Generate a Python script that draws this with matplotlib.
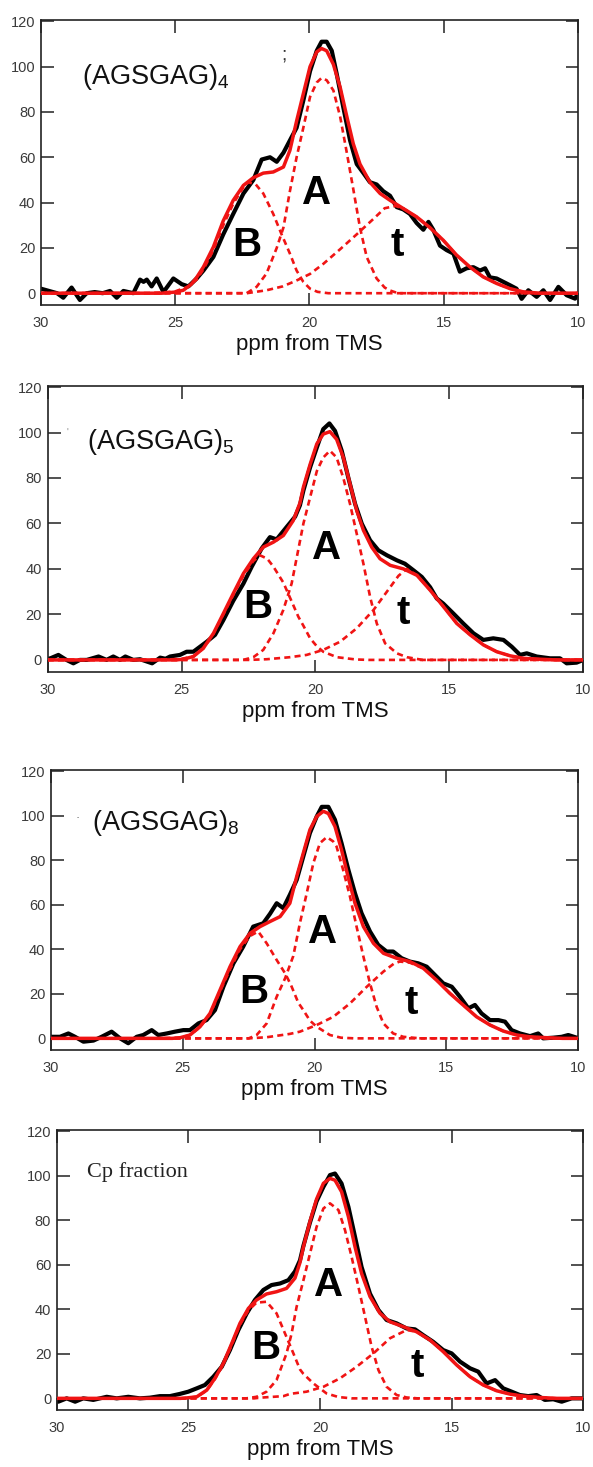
import matplotlib
matplotlib.use("Agg")
import matplotlib.pyplot as plt

plt.rcParams['font.family'] = ['Liberation Sans', 'DejaVu Sans']
plt.rcParams['mathtext.fontset'] = 'custom'
plt.rcParams['mathtext.rm'] = 'Liberation Sans'

# ---------------- Panel 1 : (AGSGAG)4 ----------------
p1_exp_ppm = [30.0, 29.7, 29.4, 29.17, 28.86, 28.55, 28.3, 28.0, 27.7, 27.43, 27.18, 26.93, 26.56,
              26.31, 26.18, 26.06, 25.88, 25.69, 25.44, 25.07, 24.76, 24.51, 24.2, 23.95, 23.58,
              23.21, 22.84, 22.46, 22.09, 21.78, 21.47, 21.22, 20.97, 20.66, 20.48, 20.23, 19.98,
              19.73, 19.55, 19.36, 19.17, 18.99, 18.74, 18.49, 18.24, 17.99, 17.75, 17.5, 17.25,
              17.0, 16.75, 16.51, 16.26, 16.01, 15.76, 15.57, 15.39, 15.14, 14.89, 14.64, 14.4,
              14.15, 13.9, 13.65, 13.46, 13.28, 13.03, 12.78, 12.53, 12.29, 12.1, 11.85, 11.54,
              11.29, 11.04, 10.73, 10.42, 10.11, 10.0]
p1_exp_int = [2, 1, 0, -2, 2.5, -3, 0, 0.5, 0, 1, -2, 1, 0,
              6, 5, 6, 3, 6.5, 0.5, 6.5, 4, 3, 6.5, 10, 16,
              26, 35, 44, 50, 59, 60, 58, 62, 69, 73, 85, 98,
              107, 111, 111, 107, 97, 82, 67.5, 57, 53, 49, 48, 45,
              43, 38, 37, 35, 31, 28, 31.5, 28, 21, 19, 17.5, 9.5,
              11, 11.5, 10, 11, 7, 6.5, 5, 3.5, 2, -2.5, 1.3, -1.6,
              1.3, -3, 2.8, -0.9, -2.4, 0]
p1_fit_ppm = [30.0, 25.5, 25.0, 24.7, 24.4, 24.2, 23.95, 23.58, 23.21, 22.84, 22.46, 22.09, 21.72,
              21.35, 20.97, 20.73, 20.48, 20.23, 19.98, 19.73, 19.55, 19.36, 19.11, 18.86, 18.61,
              18.37, 18.12, 17.75, 17.37, 17.0, 16.51, 16.01, 15.52, 15.02, 14.52, 14.03, 13.53,
              13.03, 12.53, 12.04, 11.42, 10.0]
p1_fit_int = [0, 0, 0.5, 1.3, 4, 7, 11.6, 20.4, 32, 41, 47.6, 51, 53,
              53.5, 55.7, 63, 76, 88, 100, 106.5, 108, 107, 101, 91, 78,
              66, 57, 49, 44, 41, 37.4, 33.7, 29, 23.4, 16.8, 11.6, 7.2,
              4.3, 2, 0.6, 0, 0]
p1_B_ppm = [30.0, 26.0, 25.5, 25.0, 24.5, 24.2, 23.95, 23.58, 23.21, 22.84, 22.5, 22.28, 22.0,
            21.72, 21.35, 21.04, 20.73, 20.48, 20.23, 19.98, 19.7, 19.3, 10.0]
p1_B_int = [0, 0, 0.3, 0.8, 3, 6, 10.5, 19, 30, 39.5, 46, 49, 48,
            44, 35, 26, 17.5, 10, 5, 2, 0.6, 0, 0]
p1_A_ppm = [30.0, 22.34, 21.97, 21.6, 21.22, 20.97, 20.73, 20.48, 20.23, 19.98, 19.73, 19.55, 19.36,
            19.11, 18.86, 18.61, 18.37, 18.12, 17.87, 17.5, 17.2, 17.0, 16.7, 10.0]
p1_A_int = [0, 0, 2.8, 8.7, 20, 29, 45, 60, 73, 86.6, 93, 95, 94,
            89.5, 78, 62, 46, 29, 16, 6.5, 2.5, 1.2, 0, 0]
p1_t_ppm = [30.0, 22.34, 21.6, 21.0, 20.5, 19.98, 19.48, 18.85, 18.24, 17.6, 17.2, 16.8, 16.51,
            16.01, 15.52, 15.02, 14.52, 14.03, 13.53, 13.03, 12.53, 12.04, 11.4, 10.0]
p1_t_int = [0, 0, 1.3, 3, 5.5, 8.5, 13, 19.5, 26, 33, 37.5, 38.5, 37.4,
            33.7, 29, 23.4, 16.8, 11.6, 7.2, 4.3, 2, 0.6, 0, 0]

# ---------------- Panel 2 : (AGSGAG)5 ----------------
p2_exp_ppm = [30.0, 29.9, 29.6, 29.3, 29.04, 28.8, 28.54, 28.1, 27.8, 27.55, 27.3, 27.1, 26.8,
              26.55, 26.1, 25.8, 25.6, 25.43, 25.06, 24.81, 24.56, 24.31, 24.06, 23.75, 23.44,
              23.07, 22.69, 22.38, 22.01, 21.7, 21.45, 21.08, 20.76, 20.58, 20.45, 20.2, 19.95,
              19.71, 19.48, 19.27, 19.02, 18.77, 18.52, 18.27, 17.96, 17.65, 17.33, 16.96, 16.66,
              16.34, 16.03, 15.72, 15.47, 15.23, 14.85, 14.48, 14.1, 13.73, 13.36, 12.98, 12.67,
              12.36, 12.11, 11.74, 11.24, 10.87, 10.62, 10.25, 10.0]
p2_exp_int = [0.5, 0.7, 2.2, 0, -1.5, 0, 0, 1.5, 0, 1.5, 0, 1.5, 0,
              0.3, -1.5, 1, 0.5, 1.5, 2.2, 3.6, 3.6, 5.8, 8, 11, 17.5,
              26, 33.6, 41, 49, 54, 53, 58.4, 63, 68, 74.5, 84.7, 93.4,
              101.5, 104, 100.7, 92, 80, 68.6, 59.9, 52.6, 48.2, 46, 43.8, 42.3,
              39.4, 36.5, 32, 27, 24.8, 20.4, 16, 11.7, 8.8, 9.5, 8.8, 5.8,
              2.2, 2.9, 1.5, 0.7, 0.7, -1.5, -1.2, 0]
p2_fit_ppm = [30.0, 25.2, 24.93, 24.56, 24.19, 23.81, 23.44, 23.07, 22.69, 22.32, 21.95, 21.57, 21.2,
              20.83, 20.58, 20.45, 20.2, 19.95, 19.71, 19.46, 19.21, 18.96, 18.71, 18.46, 18.21,
              17.9, 17.59, 17.21, 16.71, 16.21, 15.72, 15.22, 14.72, 14.22, 13.73, 13.23, 12.73,
              12.23, 11.61, 11.0, 10.0]
p2_fit_int = [0, 0, 0.3, 1.5, 5.1, 11.7, 20.4, 29.2, 38, 44.5, 49.6, 51.8, 54.7,
              61.3, 69, 76, 86, 95, 99.3, 100.4, 97, 89, 77.4, 65.7, 57,
              49.6, 44.5, 41.6, 40, 37.2, 30.7, 23.4, 16, 11, 6.6, 3.6, 1.8,
              0.7, 0.3, 0, 0]
p2_B_ppm = [30.0, 26.0, 25.5, 25.0, 24.56, 24.19, 23.81, 23.44, 23.07, 22.69, 22.32, 22.07, 21.8,
            21.57, 21.2, 20.9, 20.64, 20.45, 20.2, 19.95, 19.71, 19.2, 18.5, 18.0, 10.0]
p2_B_int = [0, 0, 0.2, 0.5, 1.5, 5, 11.5, 20, 28.5, 37, 43.5, 46, 44.5,
            41, 34, 26, 19, 15, 9.5, 6, 3.6, 1.2, 0.2, 0, 0]
p2_A_ppm = [30.0, 22.7, 22.32, 21.95, 21.57, 21.2, 20.89, 20.7, 20.45, 20.2, 19.95, 19.71, 19.46,
            19.21, 18.96, 18.71, 18.46, 18.21, 17.96, 17.71, 17.4, 16.96, 16.59, 16.0, 10.0]
p2_A_int = [0, 0, 1.2, 4.4, 11.7, 22, 33.6, 45, 60, 71.5, 83, 89, 92,
            89, 80, 68.6, 55.5, 42.3, 27.7, 16, 7.3, 2.9, 1.2, 0, 0]
p2_t_ppm = [30.0, 22.5, 21.82, 20.95, 20.33, 19.71, 19.08, 18.46, 17.83, 17.21, 16.9, 16.59, 16.21,
            15.72, 15.22, 14.72, 14.22, 13.73, 13.23, 12.73, 12.23, 11.61, 11.0, 10.0]
p2_t_int = [0, 0, 0.3, 1.2, 2.2, 4.4, 8, 13.9, 22, 32, 37, 40, 37.2,
            30.7, 23.4, 16, 11, 6.6, 3.6, 1.8, 0.7, 0.3, 0, 0]

# ---------------- Panel 3 : (AGSGAG)8 ----------------
p3_exp_ppm = [30.0, 29.66, 29.34, 29.09, 28.77, 28.39, 28.08, 27.7, 27.38, 27.07, 26.75, 26.5, 26.18,
              25.93, 25.61, 25.3, 24.98, 24.73, 24.41, 24.1, 23.78, 23.46, 23.08, 22.71, 22.33,
              21.95, 21.69, 21.44, 21.19, 20.94, 20.68, 20.43, 20.18, 19.92, 19.73, 19.48, 19.23,
              18.98, 18.72, 18.47, 18.22, 17.9, 17.59, 17.27, 17.02, 16.7, 16.39, 16.07, 15.75,
              15.44, 15.12, 14.8, 14.49, 14.17, 13.92, 13.67, 13.35, 13.03, 12.78, 12.53, 12.21,
              11.83, 11.52, 11.33, 10.95, 10.63, 10.38, 10.06, 10.0]
p3_exp_int = [0.7, 0.7, 2.2, 0.7, -1.5, -1, 0.7, 3, 0, -2.2, 0.7, 1.5, 3.7,
              1.5, 2.2, 3, 3.7, 3.7, 6.7, 8.2, 12.7, 23.2, 33.7, 41.2, 50.2,
              51.7, 56, 60.7, 58.5, 64.5, 71.2, 81.7, 92.2, 99.7, 104, 104, 98.2,
              87.7, 75.7, 65.2, 56.2, 48, 42, 39, 39, 36, 34.5, 33.7, 32.2,
              28.5, 24.7, 23.2, 18.7, 13.5, 15, 11.2, 8.2, 8.2, 7.5, 3.7, 2.2,
              1, 2.2, 0, 0.3, 0.7, 1.5, 0.3, 0.3]
p3_fit_ppm = [30.0, 25.4, 25.1, 24.73, 24.35, 23.97, 23.59, 23.21, 22.83, 22.45, 22.07, 21.69, 21.31,
              20.94, 20.68, 20.43, 20.18, 19.92, 19.67, 19.48, 19.23, 18.98, 18.72, 18.47, 18.15,
              17.77, 17.39, 16.89, 16.39, 15.88, 15.38, 14.87, 14.37, 13.86, 13.35, 12.85, 12.34,
              11.83, 11.2, 10.6, 10.0]
p3_fit_int = [0, 0, 0.3, 1.5, 5.2, 11.2, 21.7, 32.2, 41.2, 47.2, 50.2, 52.5, 54.7,
              60.7, 72.7, 83.2, 93.7, 99.7, 102, 101, 95.2, 84.7, 72, 60.7, 50.2,
              42.7, 38.2, 36, 34.5, 31.5, 26.2, 20.2, 15, 9.7, 6, 3.3, 1.5,
              0.7, 0.3, 0, 0]
p3_B_ppm = [30.0, 26.0, 25.5, 25.1, 24.73, 24.35, 23.97, 23.59, 23.21, 22.83, 22.45, 22.14, 21.82,
            21.44, 21.12, 20.9, 20.62, 20.43, 20.18, 19.92, 19.42, 19.0, 18.5, 10.0]
p3_B_int = [0, 0, 0.2, 0.3, 1.5, 5, 10.8, 21, 31, 40, 46, 48, 42.7,
            35.2, 29.2, 24, 16, 12.7, 8, 5.2, 1.5, 0.3, 0, 0]
p3_A_ppm = [30.0, 22.5, 22.2, 21.82, 21.44, 21.12, 20.81, 20.56, 20.3, 20.05, 19.8, 19.54, 19.3,
            19.17, 18.92, 18.66, 18.41, 18.15, 17.9, 17.65, 17.39, 17.02, 16.64, 16.0, 10.0]
p3_A_int = [0, 0, 1.5, 6.7, 18.7, 27, 37, 51.7, 65.2, 78.7, 87.7, 90.4, 88.5,
            86.2, 75.7, 63.7, 50.2, 36.7, 24.7, 14.2, 6.7, 2.2, 0.7, 0, 0]
p3_t_ppm = [30.0, 22.5, 21.82, 20.94, 20.56, 19.92, 19.29, 18.66, 18.02, 17.39, 17.0, 16.77, 16.39,
            15.88, 15.38, 14.87, 14.37, 13.86, 13.35, 12.85, 12.34, 11.83, 11.2, 10.6, 10.0]
p3_t_int = [0, 0, 0.5, 2, 3, 6, 9.7, 15.7, 23.2, 30, 33.5, 34.5, 34,
            31.5, 26.2, 20.2, 15, 9.7, 6, 3.3, 1.5, 0.7, 0.3, 0, 0]

# ---------------- Panel 4 : Cp fraction ----------------
p4_exp_ppm = [30.0, 29.94, 29.62, 29.3, 28.99, 28.61, 28.1, 27.72, 27.28, 26.84, 26.46, 26.08, 25.7,
              25.32, 25.0, 24.68, 24.37, 24.05, 23.73, 23.42, 23.1, 22.78, 22.47, 22.15, 21.84,
              21.52, 21.2, 20.95, 20.76, 20.63, 20.38, 20.13, 19.87, 19.62, 19.43, 19.18, 18.92,
              18.67, 18.42, 18.1, 17.78, 17.47, 17.09, 16.71, 16.39, 16.08, 15.7, 15.32, 15.0,
              14.68, 14.3, 13.99, 13.67, 13.35, 13.04, 12.72, 12.41, 12.09, 11.77, 11.46, 11.14,
              10.82, 10.44, 10.06, 10.0]
p4_exp_int = [-1, -1.5, 0, -1.5, 0, -0.7, 0.7, 0, 0.7, 0, 0.3, 1, 1,
              2, 3, 4.5, 6, 9.7, 14.2, 21.7, 30.7, 38.2, 44.2, 48.7, 50.9,
              51.6, 53.1, 57, 62, 68.5, 79, 88.5, 95, 100.3, 101, 96.5, 86,
              72.6, 59, 47, 39.7, 35.2, 33.7, 31.4, 31, 28.4, 25.4, 21.7, 20.2,
              16.5, 13.5, 12, 6.7, 8.2, 4.5, 3, 1.5, 1, 1.5, -0.7, -0.4,
              -1.5, 0, 0, 0]
p4_fit_ppm = [30.0, 25.3, 25.06, 24.68, 24.3, 23.99, 23.67, 23.35, 23.04, 22.72, 22.41, 22.03, 21.65,
              21.27, 20.95, 20.76, 20.63, 20.38, 20.13, 19.87, 19.62, 19.43, 19.18, 18.92, 18.67,
              18.42, 18.1, 17.72, 17.34, 16.84, 16.33, 15.82, 15.32, 14.81, 14.3, 13.8, 13.29,
              12.78, 12.28, 11.65, 11.0, 10.0]
p4_fit_int = [0, 0, 0.2, 0.7, 3.7, 9, 15.7, 24.7, 33.7, 40.4, 44.2, 46.9, 47.9,
              49.4, 54, 61, 68, 79.5, 89.5, 96.6, 98.8, 98, 92.8, 81.6, 68.1,
              56.1, 45.7, 38.2, 34.4, 32.2, 29.9, 26.2, 21, 15, 9.7, 6, 3.4,
              1.9, 1, 0.4, 0, 0]
p4_B_ppm = [30.0, 25.3, 25.06, 24.68, 24.3, 23.99, 23.67, 23.35, 23.04, 22.72, 22.41, 22.03, 21.65,
            21.33, 21.01, 20.76, 20.63, 20.25, 19.75, 19.3, 18.8, 10.0]
p4_B_int = [0, 0, 0.2, 0.7, 3.5, 8.7, 15.3, 24, 33, 39.5, 43, 43.4, 38.2,
            29.2, 20.2, 13, 11, 6.7, 2.2, 0.6, 0, 0]
p4_A_ppm = [30.0, 22.8, 22.41, 22.03, 21.65, 21.27, 21.08, 20.89, 20.63, 20.38, 20.13, 19.87, 19.62,
            19.3, 19.05, 18.8, 18.54, 18.29, 18.04, 17.78, 17.47, 17.09, 16.71, 16.3, 10.0]
p4_A_int = [0, 0, 0.7, 3, 8.2, 20.2, 29, 41, 53, 65, 77, 85.3, 87.6,
            84.6, 75.6, 63.6, 50.1, 36.7, 23.2, 12.7, 5.2, 1.5, 0.4, 0, 0]
p4_t_ppm = [30.0, 22.5, 22.28, 21.39, 21.14, 20.51, 19.87, 19.24, 18.61, 17.97, 17.34, 16.71, 16.33,
            15.82, 15.32, 14.81, 14.3, 13.8, 13.29, 12.78, 12.28, 11.65, 11.0, 10.0]
p4_t_int = [0, 0, 0.3, 1, 2, 3, 5.2, 9, 14.2, 20.2, 27, 30.7, 29.9,
            26.2, 21, 15, 9.7, 6, 3.4, 1.9, 1, 0.4, 0, 0]

# ---------------- labels ----------------
titles = [r'(AGSGAG)$_{\mathregular{4}}$', r'(AGSGAG)$_{\mathregular{5}}$',
          r'(AGSGAG)$_{\mathregular{8}}$', 'Cp fraction']
title_pos = [(28.47, 92.5), (28.53, 92.9), (28.45, 93.7), (28.85, 99.3)]
peak_names = ['B', 'A', 't']
peak_label_pos = [
    [(22.33, 21.2), (19.72, 44.1), (16.74, 21.2)],
    [(22.15, 23.2), (19.57, 49.0), (16.73, 20.6)],
    [(22.30, 20.8), (19.69, 47.8), (16.35, 15.9)],
    [(22.05, 22.6), (19.66, 50.9), (16.32, 14.5)],
]
x_ticks = [30, 25, 20, 15, 10]
y_ticks = [0, 20, 40, 60, 80, 100, 120]
x_label = 'ppm from TMS'

panels = [
    (p1_exp_ppm, p1_exp_int, p1_fit_ppm, p1_fit_int,
     [(p1_B_ppm, p1_B_int), (p1_A_ppm, p1_A_int), (p1_t_ppm, p1_t_int)]),
    (p2_exp_ppm, p2_exp_int, p2_fit_ppm, p2_fit_int,
     [(p2_B_ppm, p2_B_int), (p2_A_ppm, p2_A_int), (p2_t_ppm, p2_t_int)]),
    (p3_exp_ppm, p3_exp_int, p3_fit_ppm, p3_fit_int,
     [(p3_B_ppm, p3_B_int), (p3_A_ppm, p3_A_int), (p3_t_ppm, p3_t_int)]),
    (p4_exp_ppm, p4_exp_int, p4_fit_ppm, p4_fit_int,
     [(p4_B_ppm, p4_B_int), (p4_A_ppm, p4_A_int), (p4_t_ppm, p4_t_int)]),
]

axes_rects = [
    [0.0691, 0.7921, 0.9056, 0.1943],
    [0.0804, 0.5421, 0.9032, 0.1950],
    [0.0860, 0.2843, 0.8892, 0.1909],
    [0.0956, 0.0389, 0.8880, 0.1909],
]

RED = '#f01414'
fig = plt.figure(figsize=(5.93, 14.67), dpi=100)

for i, (ep, ei, fp, fi, comps) in enumerate(panels):
    ax = fig.add_axes(axes_rects[i])
    ax.plot(ep, ei, color='black', lw=3.0, zorder=2,
            solid_joinstyle='round', solid_capstyle='round')
    for cp, ci in comps:
        ax.plot(cp, ci, color=RED, lw=1.9, linestyle=(0, (2.3, 1.6)), zorder=3)
    ax.plot(fp, fi, color=RED, lw=2.5, zorder=4,
            solid_joinstyle='round', solid_capstyle='round')

    ax.set_xlim(30, 10)
    ax.set_ylim(-5.2, 120.6)
    ax.set_xticks(x_ticks)
    ax.set_yticks(y_ticks)
    ax.tick_params(direction='in', top=True, right=True, length=9, width=1.1,
                   labelsize=10.5, labelcolor='#3a3a3a', color='#222222')
    ax.tick_params(axis='x', pad=8)
    ax.tick_params(axis='y', pad=4)
    for s in ax.spines.values():
        s.set_linewidth(1.2)
        s.set_color('#222222')
    ax.set_xlabel(x_label, fontsize=16, labelpad=3, color='#111111')

    tx, ty = title_pos[i]
    if i < 3:
        ax.text(tx, ty, titles[i], fontsize=19.5, ha='left', va='baseline', color='#111111')
    else:
        ax.text(tx, ty, titles[i], fontsize=16, ha='left', va='baseline', color='#222222',
                family=['Liberation Serif', 'DejaVu Serif'])
    for name, (lx, ly) in zip(peak_names, peak_label_pos[i]):
        ax.text(lx, ly, name, fontsize=29, fontweight='bold', ha='center', va='center',
                color='black', zorder=5)

    if i == 0:
        ax.text(20.95, 105, ';', fontsize=14, ha='center', va='center', color='#333333')
    if i == 1:
        ax.text(29.28, 100, "'", fontsize=7, ha='center', va='center', color='#888888')
    if i == 2:
        ax.text(28.98, 99, '\u00b7', fontsize=9, ha='center', va='center', color='#555555')

fig.savefig('out.png', dpi=100)
